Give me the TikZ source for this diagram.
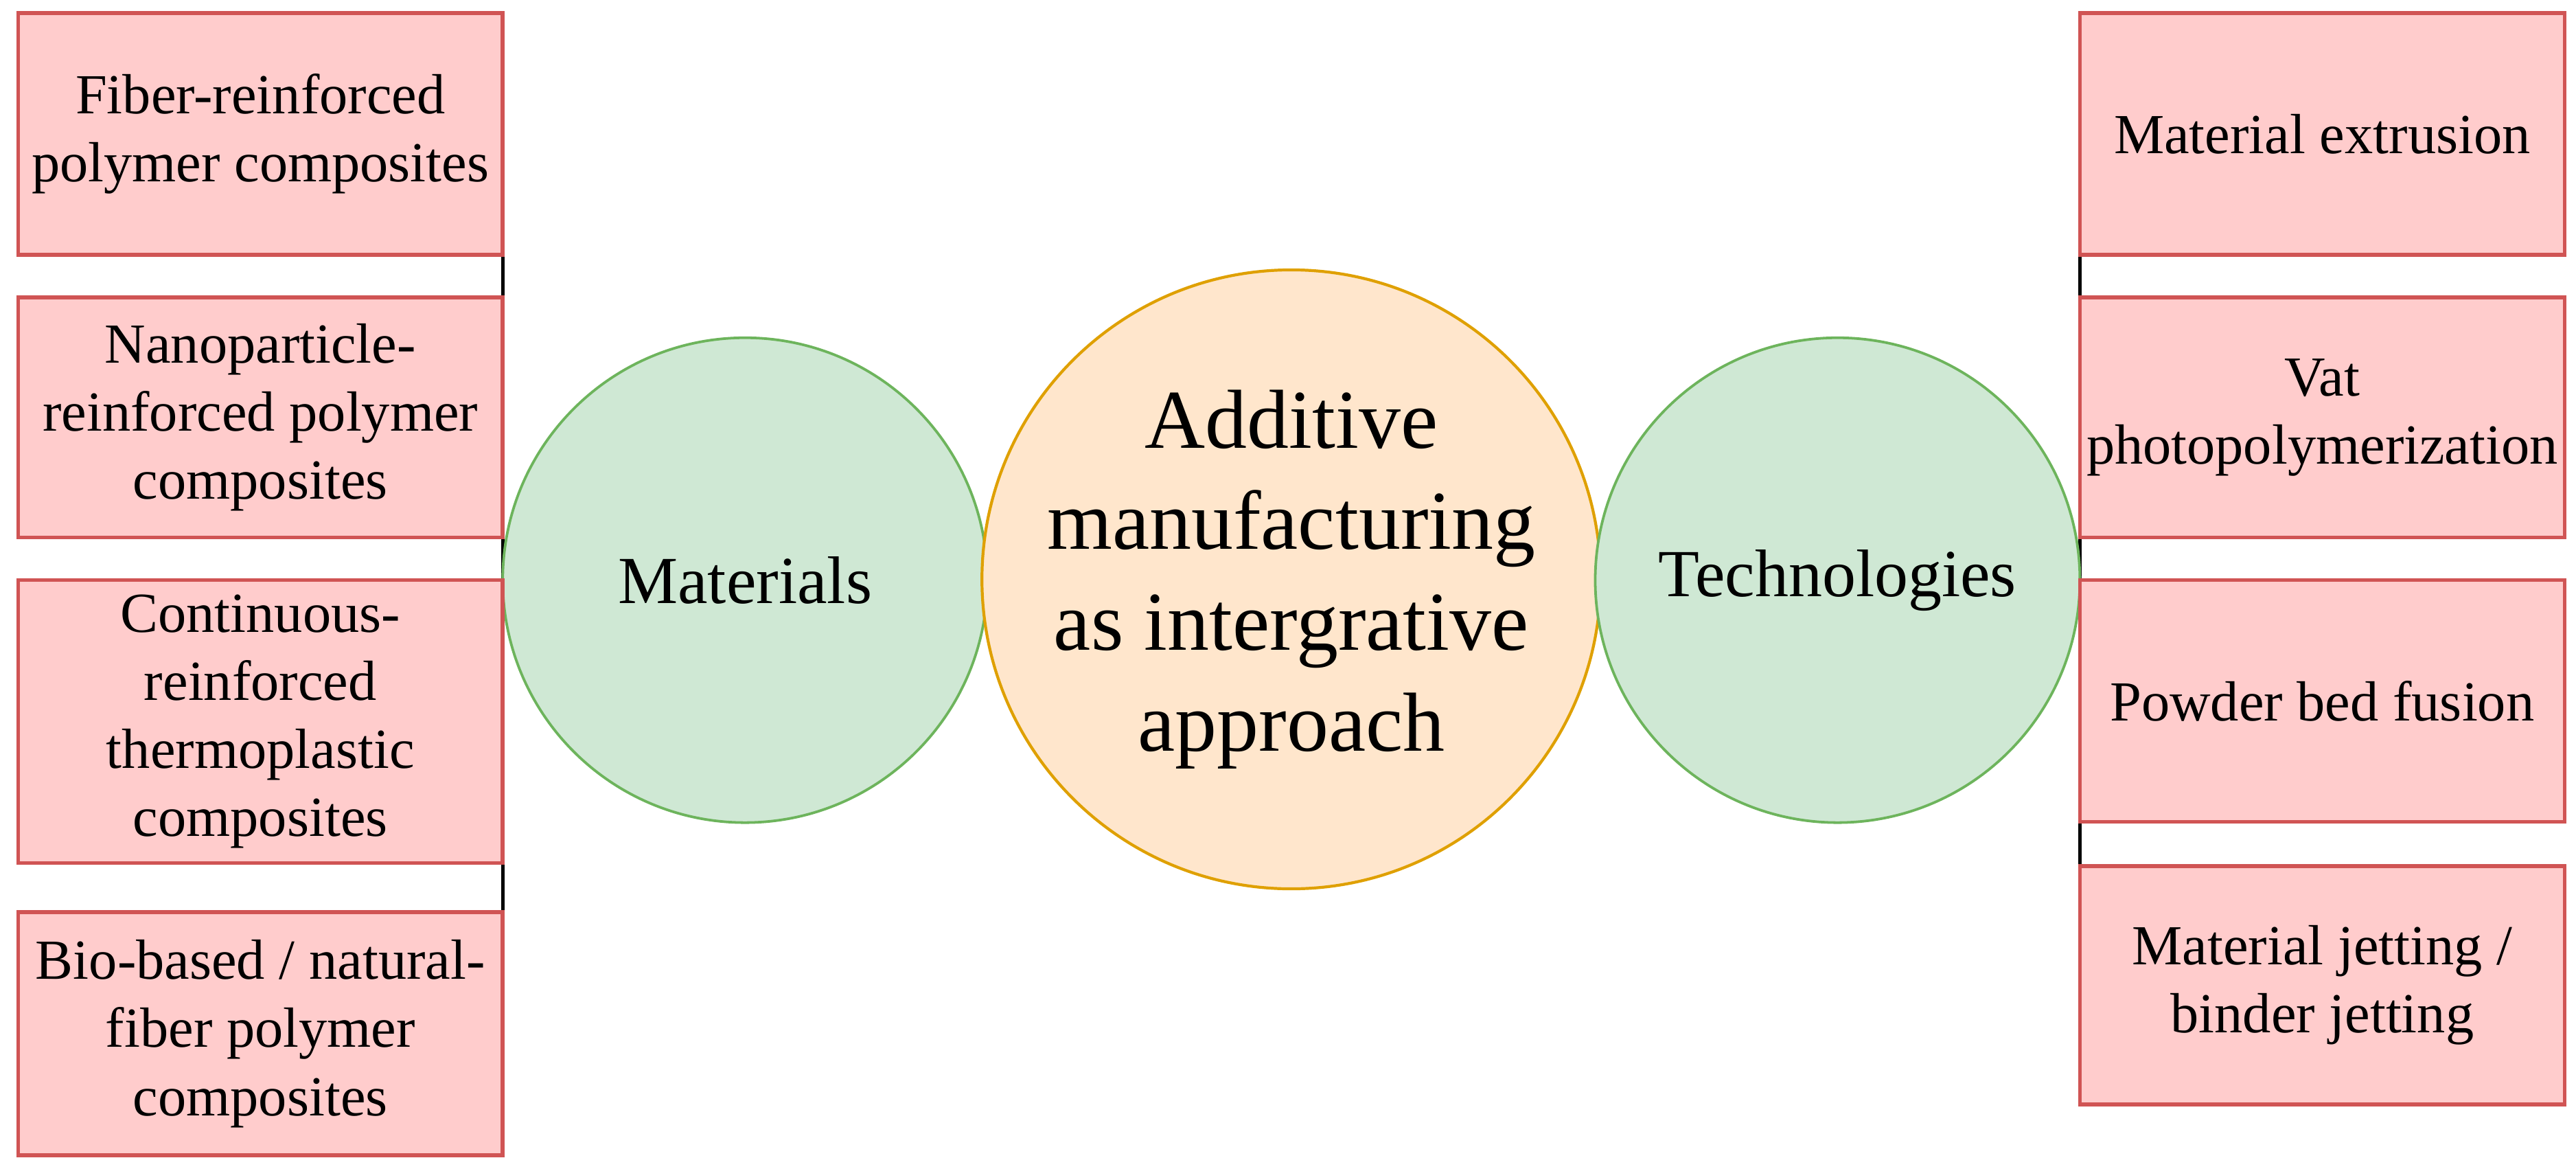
\documentclass[tikz,border=0pt]{standalone}
\usepackage{fontspec}
\setmainfont{Liberation Serif}
\usetikzlibrary{backgrounds}
\definecolor{boxfill}{HTML}{FFCCCC}
\definecolor{boxline}{HTML}{D05454}
\definecolor{greenfill}{HTML}{CFE8D4}
\definecolor{greenline}{HTML}{6DB45C}
\definecolor{orangefill}{HTML}{FFE6CC}
\definecolor{orangeline}{HTML}{DFA000}
\tikzset{
  itembox/.style={draw=boxline, fill=boxfill, line width=1.3pt, minimum width=5.9cm,
    inner sep=0pt, outer sep=0pt, align=center,
    font=\fontsize{19.6}{23.6}\selectfont},
  sidecircle/.style={circle, draw=greenline, fill=greenfill, line width=0.9pt,
    minimum size=5.9cm, inner sep=0pt, outer sep=0pt,
    font=\fontsize{23.3}{28}\selectfont},
  maincircle/.style={circle, draw=orangeline, fill=orangefill, line width=1pt,
    minimum size=7.36cm, inner sep=0pt, outer sep=0pt, align=center,
    font=\fontsize{29}{35}\selectfont},
  link/.style={draw=black, line width=1.2pt}
}
\begin{document}
\begin{tikzpicture}
\useasboundingbox (0,0) rectangle (31.36,-14.22);
% circles
\node[sidecircle] (mat) at (9.07,-7.06) {Materials};
\node[maincircle] (am) at (15.72,-7.05) {Additive\\manufacturing\\as intergrative\\approach};
\node[sidecircle] (tech) at (22.37,-7.06) {Technologies};
% left boxes
\node[itembox, minimum height=2.94cm] (l1) at (3.17,-1.63) {Fiber-reinforced\\polymer composites};
\node[itembox, minimum height=2.92cm] (l2) at (3.17,-5.08) {Nanoparticle-\\reinforced polymer\\composites};
\node[itembox, minimum height=3.44cm] (l3) at (3.17,-8.78) {Continuous-\\reinforced\\thermoplastic\\composites};
\node[itembox, minimum height=2.96cm] (l4) at (3.17,-12.58) {Bio-based / natural-\\fiber polymer\\composites};
% right boxes
\node[itembox, minimum height=2.94cm] (r1) at (28.27,-1.63) {Material extrusion};
\node[itembox, minimum height=2.92cm] (r2) at (28.27,-5.08) {Vat\\photopolymerization};
\node[itembox, minimum height=2.94cm] (r3) at (28.27,-8.53) {Powder bed fusion};
\node[itembox, minimum height=2.90cm] (r4) at (28.27,-11.99) {Material jetting /\\binder jetting};
% connectors
\begin{scope}[on background layer]
\draw[link] (mat.west) -- (mat.west |- l1.east);
\draw[link] (mat.west) -- (mat.west |- l4.east);
\draw[link] (tech.east) -- (tech.east |- r1.west);
\draw[link] (tech.east) -- (tech.east |- r4.west);
\end{scope}
\end{tikzpicture}
\end{document}
